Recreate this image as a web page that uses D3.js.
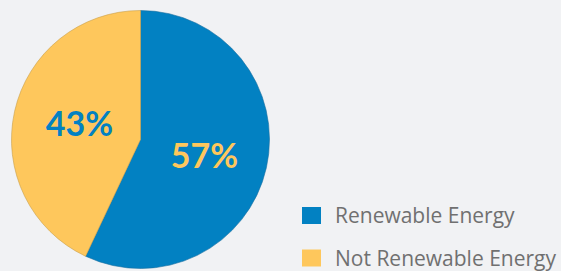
<!DOCTYPE html>
<html>
<head>
<meta charset="utf-8">
<script src="https://cdn.jsdelivr.net/npm/d3@7"></script>
<style>
  html, body { margin: 0; padding: 0; background: #f1f2f4; }
  svg { display: block; }
</style>
</head>
<body>
<svg id="chart" width="561" height="271"></svg>
<script>
const categories = ["Renewable Energy", "Not Renewable Energy"];
const values = [57, 43];
const labels = ["57%", "43%"];
const colors = ["#0281c2", "#fec75c"];
const labelColors = ["#fec75c", "#0281c2"];

const svg = d3.select("#chart");
const cx = 140.5, cy = 139.5, r = 129;

const pie = d3.pie().sort(null).value(d => d)(values);
const arc = d3.arc().innerRadius(0).outerRadius(r);

const g = svg.append("g").attr("transform", `translate(${cx},${cy})`);
g.selectAll("path").data(pie).join("path")
  .attr("d", arc)
  .attr("fill", (d, i) => colors[i])
  .attr("stroke", (d, i) => i === 0 ? "#1a6fa0" : "#c9a04a")
  .attr("stroke-width", 0.6);

const labelPos = [[64, 28], [-61, -4]];
g.selectAll("text.pct").data(pie).join("text")
  .attr("class", "pct")
  .attr("x", (d, i) => labelPos[i][0])
  .attr("y", (d, i) => labelPos[i][1])
  .attr("text-anchor", "middle")
  .attr("font-family", "Lato, 'Open Sans', sans-serif")
  .attr("font-weight", "bold")
  .attr("font-size", 34)
  .attr("fill", (d, i) => labelColors[i])
  .text((d, i) => labels[i]);

const legend = svg.append("g");
const ly = d3.scalePoint().domain(categories).range([215.5, 258]);
const items = legend.selectAll("g").data(categories).join("g")
  .attr("transform", d => `translate(302,${ly(d)})`);
items.append("rect")
  .attr("x", 0).attr("y", -8.5)
  .attr("width", 19).attr("height", 17)
  .attr("fill", (d, i) => colors[i]);
items.append("text")
  .attr("x", 33).attr("y", 7.5)
  .attr("font-family", "'Open Sans', sans-serif")
  .attr("font-size", 21)
  .attr("fill", "#707070")
  .text(d => d);
</script>
</body>
</html>
